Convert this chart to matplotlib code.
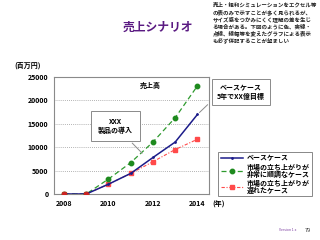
import matplotlib
matplotlib.use("Agg")
import matplotlib.pyplot as plt
from matplotlib.lines import Line2D

plt.rcParams['font.family'] = ['Noto Sans CJK JP', 'DejaVu Sans']

years = [2008, 2009, 2010, 2011, 2012, 2013, 2014]
base_case = [0, 0, 2100, 4400, 7800, 11100, 17000]
strong_case = [0, 0, 3200, 6700, 11100, 16300, 23100]
slow_case = [0, 0, 2100, 4400, 6900, 9500, 11700]
xticks = [2008, 2010, 2012, 2014]
yticks = [0, 5000, 10000, 15000, 20000, 25000]
legend_labels = ["ベースケース", "市場の立ち上がりが\n非常に順調なケース", "市場の立ち上がりが\n遅れたケース"]

W, H = 320, 240
fig = plt.figure(figsize=(3.2, 2.4), dpi=100)
ax = fig.add_axes([54 / W, 1 - 194 / H, (209 - 54) / W, (194 - 77) / H])

blue = '#1c1c8a'
green = '#2e9a2e'
red = '#ff4a4a'

ax.plot(years, slow_case, color=red, lw=0.8, ls=(0, (3, 1.5, 1, 1.5)),
        marker='s', ms=2.2, mfc=red, mec=red, zorder=3)
ax.plot(years, strong_case, color=green, lw=0.9, ls=(0, (4, 2.5)),
        marker='o', ms=3.2, mfc='#1e8a1e', mec='#1e8a1e', zorder=3)
ax.plot(years, base_case, color=blue, lw=1.1, marker='.', ms=2, zorder=4)
ax.plot(years[:2], slow_case[:2], ls='none', marker='o', ms=3, color='#cc2222', zorder=5)

ax.set_xlim(2007.55, 2014.52)
ax.set_ylim(0, 25000)
ax.set_xticks(xticks)
ax.set_xticklabels([str(t) for t in xticks])
ax.set_yticks(yticks)
ax.set_yticklabels([str(t) for t in yticks])
ax.tick_params(axis='both', labelsize=5, length=0, pad=4)
for lab in ax.get_xticklabels() + ax.get_yticklabels():
    lab.set_fontweight('bold')
ax.grid(axis='y', ls=(0, (1, 1.5)), color='#9a9a9a', lw=0.6)
ax.set_axisbelow(True)
for s in ax.spines.values():
    s.set_color('#8a8a8a')
    s.set_linewidth(0.8)

# annotations
ax.text(2011.9, 23300, "売上高", fontsize=5, fontweight='bold', ha='center', va='center')
ax.annotate("XXX\n製品の導入", xy=(2011.6, 8300), xytext=(2010.3, 14600),
            fontsize=5, fontweight='bold', ha='center', va='center', linespacing=1.3,
            bbox=dict(boxstyle='square,pad=1.0', fc='white', ec='#8a8a8a', lw=0.7),
            arrowprops=dict(arrowstyle='-', color='#8a8a8a', lw=0.7))

fig.text(241 / W, 1 - 92 / H, "ベースケース\n5年でXX億目標", fontsize=5, fontweight='bold',
         ha='center', va='center', linespacing=1.3,
         bbox=dict(boxstyle='square,pad=0.7', fc='white', ec='#8a8a8a', lw=0.7))
ax.annotate("", xy=(2014.0, 17000), xytext=(2014.55, 19500),
            arrowprops=dict(arrowstyle='-', color='#8a8a8a', lw=0.7), annotation_clip=False)

fig.text(14 / W, 1 - 65 / H, "(百万円)", fontsize=5, fontweight='bold', ha='left', va='center')
fig.text(212 / W, 1 - 204 / H, "(年)", fontsize=5, fontweight='bold', ha='left', va='center')

# legend
handles = [
    Line2D([], [], color=blue, lw=1.1, marker='.', ms=2),
    Line2D([], [], color=green, lw=0.9, ls=(0, (4, 2.5)), marker='o', ms=3.2,
           mfc='#1e8a1e', mec='#1e8a1e'),
    Line2D([], [], color=red, lw=0.8, ls=(0, (3, 1.5, 1, 1.5)), marker='s', ms=2.2),
]
leg = fig.legend(handles, legend_labels, loc='upper left',
                 bbox_to_anchor=(215 / W, 1 - 149 / H), fontsize=5, frameon=True,
                 fancybox=False, edgecolor='#6a6a6a', borderpad=0.3, labelspacing=0.3,
                 handlelength=3.2, handletextpad=0.6)
leg.get_frame().set_linewidth(0.7)
for t in leg.get_texts():
    t.set_fontweight('bold')
    t.set_linespacing(0.95)

# title and notes
fig.text(158 / W, 1 - 27 / H, "売上シナリオ", fontsize=8.5, fontweight='bold',
         color='#5a1a82', ha='center', va='center')
note = ("売上・粗利シミュレーションをエクセル等\n"
        "の表のみで示すことが多く見られるが、\n"
        "サイズ感をつかみにくく理解の差を生じ\n"
        "る場合がある。下図のように色、実線・\n"
        "点線、線幅等を変えたグラフによる表示\n"
        "も必ず併記することが望ましい")
fig.text(213 / W, 1 - 2 / H, note, fontsize=3.95, fontweight='bold', ha='left', va='top',
         linespacing=1.3, color='#222222')

fig.text(296 / W, 1 - 230 / H, "Version 1.x", fontsize=2.5, color='#7a3aa0',
         ha='right', va='center')
fig.text(305 / W, 1 - 230 / H, "79", fontsize=4, color='#333333', ha='left', va='center')

fig.savefig("out.png", dpi=100)
